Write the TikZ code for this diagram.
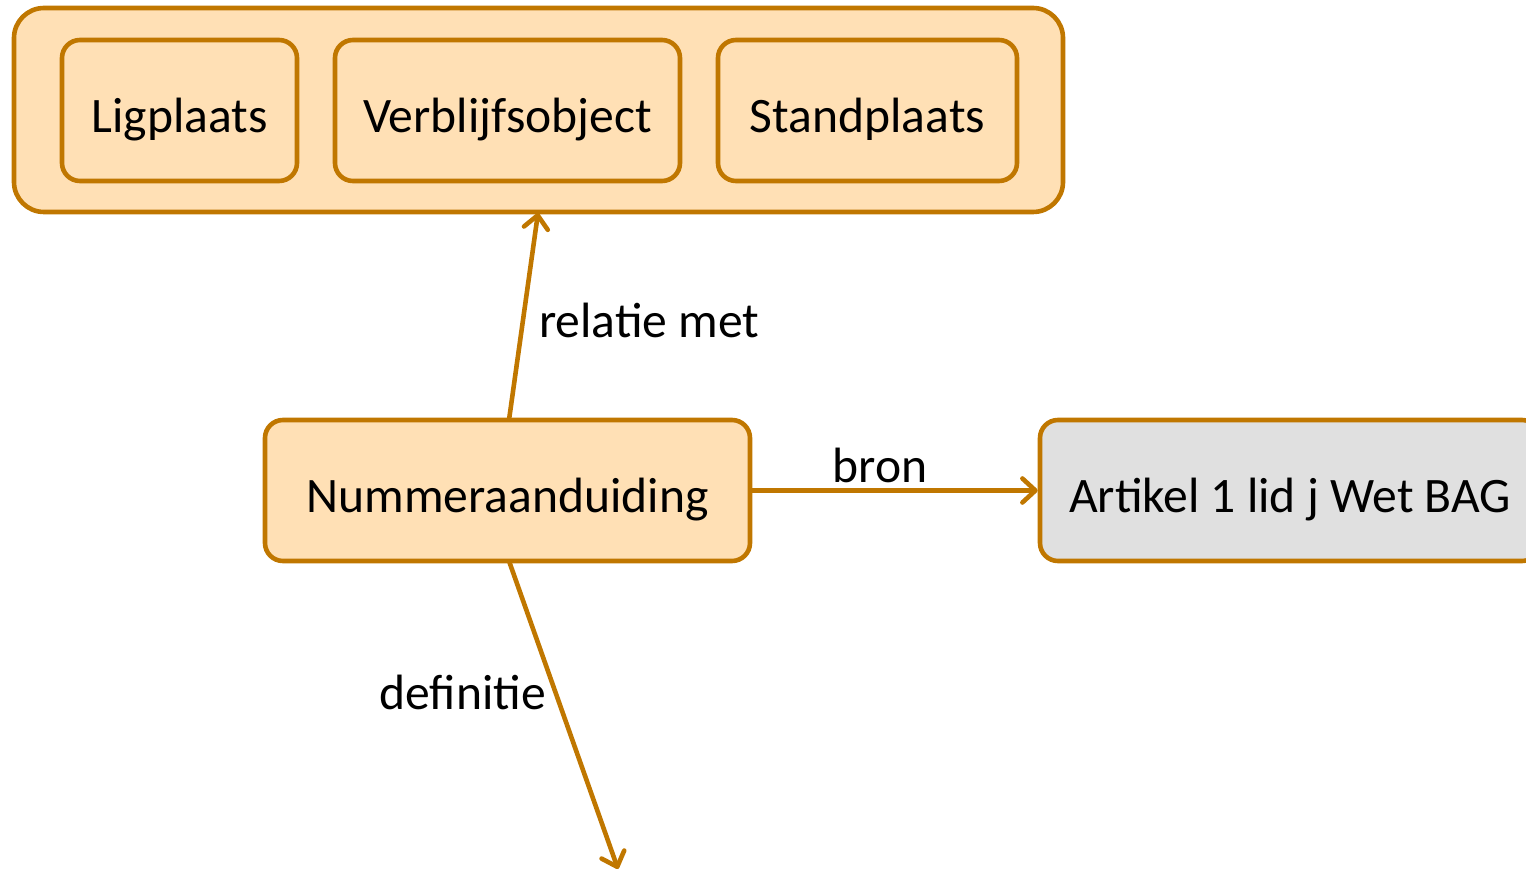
\documentclass[tikz,border=0pt]{standalone}
\usepackage{fontspec}
\setmainfont{Carlito}
\usetikzlibrary{arrows.meta}
\definecolor{bagrand}{HTML}{C07700}
\definecolor{bagvul}{HTML}{FFE0B5}
\definecolor{baggrijs}{HTML}{E0E0E0}
\begin{document}
\begin{tikzpicture}[x=0.5pt,y=-0.5pt]
        \tikzstyle{every node}=[font=\fontsize{24.8}{29}\selectfont];
        \tikzstyle{vak}=[draw=bagrand,line width=2.3pt,rounded corners=9pt,fill=bagvul,inner sep=0pt,text height=22pt,text depth=0pt];
        \tikzstyle{pijl}=[draw=bagrand,line width=2.3pt,-{Straight Barb[length=6.5pt,width=12pt,round]}];
        \useasboundingbox (0,0) rectangle (1526,871);
        %groep en objecten
        \node[vak,rounded corners=15pt,minimum width=524.5pt,minimum height=102pt] (groep) at (538.5,110) {};
        \node[vak,minimum width=117.5pt,minimum height=70.5pt] (lig) at (179.5,110.5) {Ligplaats};
        \node[vak,minimum width=172.5pt,minimum height=70.5pt] (vbo) at (507.5,110.5) {Verblijfsobject};
        \node[vak,minimum width=149.5pt,minimum height=70.5pt] (stand) at (867.5,110.5) {Standplaats};
        \node[vak,minimum width=242.5pt,minimum height=70.5pt] (num) at (507.5,490.5) {Nummeraanduiding};
        \node[vak,fill=baggrijs,minimum width=250pt,minimum height=70.5pt] (wet) at (1290,490.5) {Artikel 1 lid j Wet BAG};
        \coordinate (eind) at (618,869);
        %verbindingen
        \draw[pijl] (509,420) -- (538,213);
        \draw[pijl] (num.east) -- (wet.west);
        \draw[pijl] (509,561) -- (eind);
        \node[anchor=west] (relatie) at (532,320) {relatie met};
        \node (bron) at (880,465) {bron};
        \node[anchor=east] (definitie) at (553,692) {definitie};
    \end{tikzpicture}
\end{document}
